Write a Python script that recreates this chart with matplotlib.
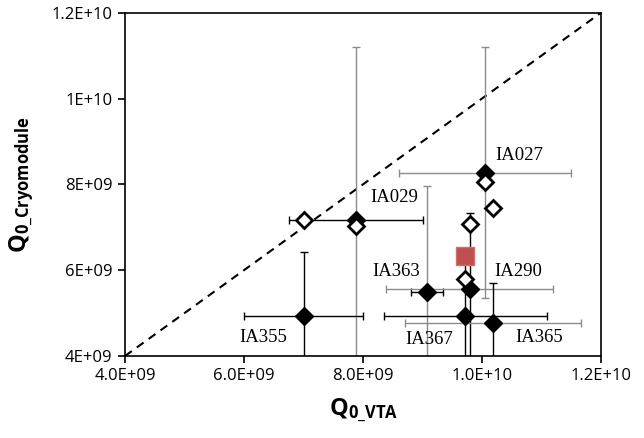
import matplotlib
matplotlib.use('Agg')
import matplotlib.pyplot as plt

plt.rcParams['font.family'] = ['Open Sans', 'DejaVu Sans']
plt.rcParams['mathtext.fontset'] = 'custom'
plt.rcParams['mathtext.bf'] = 'Open Sans:bold'
plt.rcParams['mathtext.rm'] = 'Open Sans'

# labelled cavities (filled diamonds): Q0 in VTA test vs in cryomodule
names = ['IA029', 'IA027', 'IA363', 'IA290', 'IA355', 'IA367', 'IA365']
q_vta = [7.88e9, 10.05e9, 9.08e9, 9.79e9, 7.00e9, 9.72e9, 10.18e9]
q_cm = [7.17e9, 8.27e9, 5.48e9, 5.55e9, 4.94e9, 4.93e9, 4.78e9]
err_vta = [1.13e9, 1.44e9, 0.27e9, 1.40e9, 1.00e9, 1.37e9, 1.48e9]
err_cm = [4.03e9, 2.93e9, 2.47e9, 1.79e9, 1.48e9, 1.30e9, 0.91e9]
# which error bars are drawn grey in the original
grey_x = [False, True, False, True, False, False, True]
grey_y = [True, True, True, False, False, False, False]

# open diamonds (no error bars)
open_vta = [7.00e9, 7.88e9, 10.05e9, 10.19e9, 9.80e9, 9.71e9]
open_cm = [7.17e9, 7.03e9, 8.06e9, 7.44e9, 7.07e9, 5.79e9]

# red square
avg_vta = [9.71e9]
avg_cm = [6.34e9]

xticks = [4e9, 6e9, 8e9, 1e10, 1.2e10]
xticklabels = ['4.0E+09', '6.0E+09', '8.0E+09', '1.0E+10', '1.2E+10']
yticks = [4e9, 6e9, 8e9, 1e10, 1.2e10]
yticklabels = ['4E+09', '6E+09', '8E+09', '1E+10', '1.2E+10']

# label offsets in pixels from each point
label_off = [(38, 22), (34, 17), (-31, 21), (49, 18), (-40, -22), (-36, -23), (46, -15)]

fig = plt.figure(figsize=(6.44, 4.38), dpi=100)
ax = fig.add_axes([125/644, 1-356/438, 476/644, (356-12.7)/438])

grey = '#8c8c8c'
for i in range(len(names)):
    ax.errorbar(q_vta[i], q_cm[i], xerr=err_vta[i], fmt='none',
                ecolor=grey if grey_x[i] else 'black', elinewidth=1.0,
                capsize=3, capthick=1.0, zorder=2)
    ax.errorbar(q_vta[i], q_cm[i], yerr=err_cm[i], fmt='none',
                ecolor=grey if grey_y[i] else 'black', elinewidth=1.0,
                capsize=3, capthick=1.0, zorder=2)

ax.plot(q_vta, q_cm, 'D', color='black', ms=9, zorder=3)
ax.plot(open_vta, open_cm, 'D', mfc='white', mec='black', ms=8.5, mew=2, zorder=4)
ax.plot(avg_vta, avg_cm, 's', mfc='#c0504d', mec='#cf6e6b', ms=13.5, mew=1, zorder=5)

ax.plot([4e9, 1.2e10], [4e9, 1.2e10], '--', color='black', lw=1.5, dashes=(4, 3), zorder=1)

for i, n in enumerate(names):
    ax.annotate(n, (q_vta[i], q_cm[i]), xytext=label_off[i], textcoords='offset pixels',
                ha='center', va='center', fontsize=13.5, family='Liberation Serif')

ax.set_xlim(4e9, 1.2e10)
ax.set_ylim(4e9, 1.2e10)
ax.set_xticks(xticks)
ax.set_xticklabels(xticklabels)
ax.set_yticks(yticks)
ax.set_yticklabels(yticklabels)
ax.tick_params(direction='out', length=5, width=1.2, labelsize=12, pad=4)

for s in ax.spines.values():
    s.set_linewidth(1.2)

ax.set_xlabel(r'$\mathbf{Q_{0\_VTA}}$', fontsize=17, labelpad=9)
ax.set_ylabel(r'$\mathbf{Q_{0\_Cryomodule}}$', fontsize=17, labelpad=11)

fig.savefig('out.png', dpi=100)
